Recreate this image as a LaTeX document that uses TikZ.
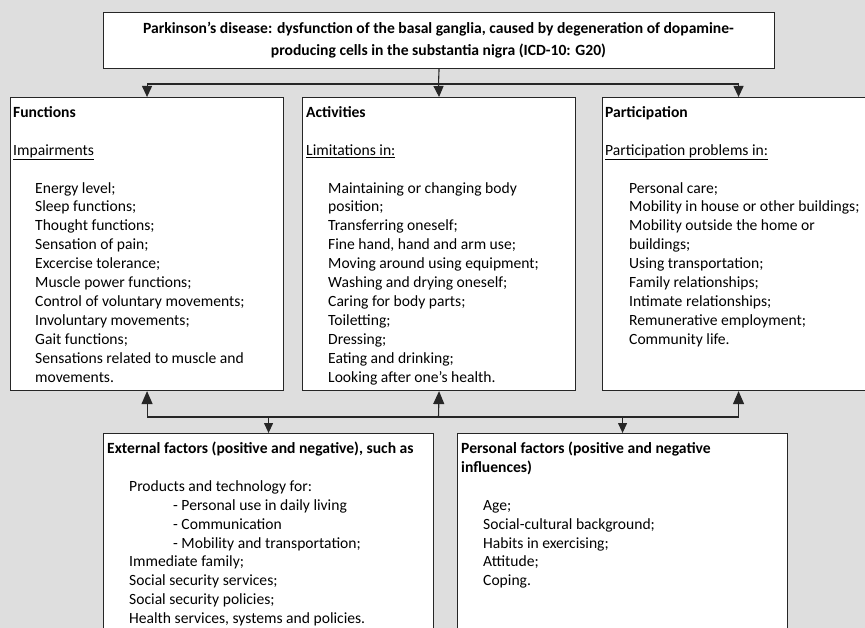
\documentclass[tikz,border=0pt]{standalone}
\usepackage{fontspec}
\setmainfont{Carlito}
\usetikzlibrary{arrows.meta}
\newcommand\myind{\hspace*{22pt}}
\newcommand\mysub{\hspace*{44pt}}
\begin{document}
\begin{tikzpicture}[x=1pt,y=-1pt,
  box/.style={draw=black!85, line width=1.1pt, fill=white, rectangle, inner sep=0pt, anchor=north west},
  txt/.style={anchor=base west, inner sep=0pt, font=\fontsize{15.6}{18.9}\selectfont},
  con/.style={draw=black!85, line width=1.1pt},
  arrS/.style={con, -{Triangle[width=10pt,length=11pt]}},
  arrL/.style={con, -{Triangle[width=11pt,length=13pt]}},
  arrT/.style={con, -{Triangle[width=9pt,length=10pt]}}
]
\useasboundingbox (0,0) rectangle (865,628);
\fill[fill={rgb,255:red,222;green,222;blue,222}] (0,0) rectangle (865,628);
\begin{scope}
\clip (0,0) rectangle (865,628);
% boxes
\node[box, minimum width=671pt, minimum height=56pt] (top) at (103,12) {};
\node[anchor=center, align=center, inner sep=0pt, font=\fontsize{15.6}{21.5}\selectfont\bfseries] (toptxt) at (438.5,40)
  {Parkinson’s disease: dysfunction of the basal ganglia, caused by degeneration of dopamine-\\producing cells in the substantia nigra (ICD-10: G20)};
\node[box, minimum width=273pt, minimum height=293pt] (func) at (10,97) {};
\node[box, minimum width=273pt, minimum height=293pt] (act) at (302,97) {};
\node[box, minimum width=272pt, minimum height=293pt] (part) at (602,97) {};
\node[box, minimum width=330pt, minimum height=210pt] (ext) at (103,433) {};
\node[box, minimum width=330pt, minimum height=210pt] (pers) at (457,433) {};

% texts
\node[txt] (functxt) at (13,117.5) {\parbox[t]{268pt}{\raggedright
  \textbf{Functions}\\[18.9pt]
  \underline{Impairments}\\[18.9pt]
  \myind Energy level;\\
  \myind Sleep functions;\\
  \myind Thought functions;\\
  \myind Sensation of pain;\\
  \myind Excercise tolerance;\\
  \myind Muscle power functions;\\
  \myind Control of voluntary movements;\\
  \myind Involuntary movements;\\
  \myind Gait functions;\\
  \myind Sensations related to muscle and\\
  \myind movements.}};
\node[txt] (acttxt) at (306,117.5) {\parbox[t]{268pt}{\raggedright
  \textbf{Activities}\\[18.9pt]
  \underline{Limitations in:}\\[18.9pt]
  \myind Maintaining or changing body\\
  \myind position;\\
  \myind Transferring oneself;\\
  \myind Fine hand, hand and arm use;\\
  \myind Moving around using equipment;\\
  \myind Washing and drying oneself;\\
  \myind Caring for body parts;\\
  \myind Toiletting;\\
  \myind Dressing;\\
  \myind Eating and drinking;\\
  \myind Looking after one’s health.}};
\node[txt] (parttxt) at (605,117.5) {\parbox[t]{300pt}{\raggedright
  \textbf{Participation}\\[18.9pt]
  \underline{Participation problems in:}\\[18.9pt]
  \hspace*{24pt}Personal care;\\
  \hspace*{24pt}Mobility in house or other buildings;\\
  \hspace*{24pt}Mobility outside the home or\\
  \hspace*{24pt}buildings;\\
  \hspace*{24pt}Using transportation;\\
  \hspace*{24pt}Family relationships;\\
  \hspace*{24pt}Intimate relationships;\\
  \hspace*{24pt}Remunerative employment;\\
  \hspace*{24pt}Community life.}};
\node[txt] (exttxt) at (107,453.5) {\parbox[t]{325pt}{\raggedright
  \textbf{External factors (positive and negative), such as}\\[18.9pt]
  \myind Products and technology for:\\
  \myind\mysub - Personal use in daily living\\
  \myind\mysub - Communication\\
  \myind\mysub - Mobility and transportation;\\
  \myind Immediate family;\\
  \myind Social security services;\\
  \myind Social security policies;\\
  \myind Health services, systems and policies.}};
\node[txt] (perstxt) at (461,453.5) {\parbox[t]{325pt}{\raggedright
  \textbf{Personal factors (positive and negative}\\
  \textbf{influences)}\\[18.9pt]
  \myind Age;\\
  \myind Social-cultural background;\\
  \myind Habits in exercising;\\
  \myind Attitude;\\
  \myind Coping.}};

% top connectors
\coordinate (hubT) at (438.5,84);
\coordinate (hubB) at (438.5,417);
\draw[con] (top.south) -- (hubT);
\draw[con] (func.north |- hubT) -- (part.north |- hubT);
\draw[arrS] (func.north |- hubT) -- (func.north);
\draw[arrS] (hubT) -- (act.north);
\draw[arrS] (part.north |- hubT) -- (part.north);
% bottom connectors
\draw[con] (func.south |- hubB) -- (part.south |- hubB);
\draw[arrL] (func.south |- hubB) -- (func.south);
\draw[arrL] (hubB) -- (act.south);
\draw[arrL] (part.south |- hubB) -- (part.south);
\draw[arrT] (ext.north |- hubB) -- (ext.north);
\draw[arrT] (pers.north |- hubB) -- (pers.north);
\end{scope}
\end{tikzpicture}
\end{document}
